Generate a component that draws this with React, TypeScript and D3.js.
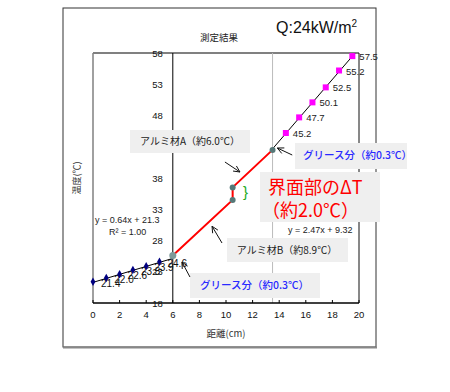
import * as d3 from 'd3';

// blue series (measured, 0-5 cm)
const blueX = [0, 1, 2, 3, 4, 5];
const blueY = [21.4, 22.0, 22.6, 23.3, 23.9, 24.6];
// red path through aluminium A/B and interface
const redX = [6, 10.5, 10.5, 13.5];
const redY = [25.6, 34.5, 36.5, 42.5];
// magenta series (14.5-19.5 cm)
const magX = [14.5, 15.5, 16.5, 17.5, 18.5, 19.5];
const magY = [45.2, 47.7, 50.1, 52.5, 55.2, 57.5];
// trend lines
const fitBlue = { a: 0.64, b: 21.3, from: 0, to: 6 };
const fitMag = { a: 2.47, b: 9.32, from: 13.5, to: 19.71 };

const xTicks = [0, 2, 4, 6, 8, 10, 12, 14, 16, 18, 20];
const yTicks = [18, 23, 28, 33, 38, 43, 48, 53, 58];

const JP = '"Noto Sans CJK JP", "Liberation Sans", sans-serif';
const AR = '"Liberation Sans", Arial, sans-serif';

const x = d3.scaleLinear().domain([0, 20]).range([93, 359]);
const y = d3.scaleLinear().domain([18, 58]).range([303, 53]);

const Arrow = ({ tail, head }: { tail: number[]; head: number[] }) => {
  const x1 = x(tail[0]), y1 = y(tail[1]), x2 = x(head[0]), y2 = y(head[1]);
  const ang = Math.atan2(y2 - y1, x2 - x1);
  const L = 7, s = 0.45;
  const p1 = [x2 - L * Math.cos(ang - s), y2 - L * Math.sin(ang - s)];
  const p2 = [x2 - L * Math.cos(ang + s), y2 - L * Math.sin(ang + s)];
  return (
    <g stroke="#111" strokeWidth={1} fill="none">
      <line x1={x1} y1={y1} x2={x2} y2={y2} />
      <polyline points={`${p1[0]},${p1[1]} ${x2},${y2} ${p2[0]},${p2[1]}`} />
    </g>
  );
};

export default function App() {
  const redLine = d3.line<number>().x((_, i) => x(redX[i])).y((d) => y(d));
  const diamond = d3.symbol().type(d3.symbolDiamond).size(20)();

  return (
    <svg width={450} height={392} style={{ position: 'absolute', left: 0, top: 0, background: '#fff' }}>
      {/* outer frame */}
      <rect x={63} y={8} width={313} height={339} fill="#fff" stroke="#333" strokeWidth={1} />
      <line x1={63} x2={377} y1={347.5} y2={347.5} stroke="#888" strokeWidth={2} />

      {/* title */}
      <text x={219} y={41} textAnchor="middle" fontFamily={JP} fontSize={9.5} fill="#222">測定結果</text>
      <text x={276} y={33} fontFamily={AR} fontSize={16} fill="#111">
        Q:24kW/m<tspan fontSize={10} dy={-6}>2</tspan>
      </text>

      {/* plot frame */}
      <line x1={x(0)} x2={x(20)} y1={y(58)} y2={y(58)} stroke="#808080" strokeWidth={2} />
      <line x1={x(0)} x2={x(0)} y1={y(58)} y2={y(18)} stroke="#808080" strokeWidth={1.5} />
      <line x1={x(20)} x2={x(20)} y1={y(58)} y2={y(18)} stroke="#111" strokeWidth={1} />
      <line x1={x(13.5)} x2={x(13.5)} y1={y(58)} y2={y(18)} stroke="#bbb" strokeWidth={1} />
      <line x1={x(6)} x2={x(6)} y1={y(58)} y2={y(18)} stroke="#000" strokeWidth={1} />
      <line x1={x(0)} x2={x(20)} y1={y(18)} y2={y(18)} stroke="#000" strokeWidth={1.5} />
      {xTicks.map((t) => (
        <line key={'xt' + t} x1={x(t)} x2={x(t)} y1={y(18)} y2={y(18) - 3} stroke="#000" />
      ))}

      {/* y tick labels along the axis at x=6 */}
      {yTicks.map((t) => (
        <text key={'yt' + t} x={x(6) - 10} y={y(t) + 3.5} textAnchor="end" fontFamily={AR} fontSize={9.5} fill="#111">{t}</text>
      ))}
      {xTicks.map((t) => (
        <text key={'xl' + t} x={x(t)} y={318} textAnchor="middle" fontFamily={AR} fontSize={9.5} fill="#111">{t}</text>
      ))}

      {/* axis titles */}
      <text transform={`translate(80,${y(38)}) rotate(-90)`} textAnchor="middle" fontFamily={JP} fontSize={9} fill="#333">温度(℃)</text>
      <text x={226} y={337} textAnchor="middle" fontFamily={JP} fontSize={9.5} fill="#333">距離(cm)</text>

      {/* trend lines */}
      <line x1={x(fitBlue.from)} y1={y(fitBlue.a * fitBlue.from + fitBlue.b)} x2={x(fitBlue.to)} y2={y(fitBlue.a * fitBlue.to + fitBlue.b)} stroke="#000" strokeWidth={1} />
      <line x1={x(fitMag.from)} y1={y(fitMag.a * fitMag.from + fitMag.b)} x2={x(fitMag.to)} y2={y(fitMag.a * fitMag.to + fitMag.b)} stroke="#000" strokeWidth={1} />

      {/* red path */}
      <path d={redLine(redY) || ''} fill="none" stroke="#ff0000" strokeWidth={2} />
      {redY.map((v, i) => (
        <circle key={'r' + i} cx={x(redX[i])} cy={y(v)} r={i === 0 ? 3.5 : 3} fill={i === 0 ? '#7f9a9a' : '#567878'} />
      ))}

      {/* blue series */}
      {blueY.map((v, i) => (
        <g key={'b' + i}>
          <path d={diamond || ''} transform={`translate(${x(blueX[i])},${y(v)})`} fill="#000080" />
          <text x={x(blueX[i]) + 8} y={y(v) + 5} fontFamily={AR} fontSize={10} fill="#111">{v.toFixed(1)}</text>
        </g>
      ))}

      {/* magenta series */}
      {magY.map((v, i) => (
        <g key={'m' + i}>
          <rect x={x(magX[i]) - 3} y={y(v) - 3} width={6} height={6} fill="#ff00ff" />
          <text x={x(magX[i]) + 7} y={y(v) + 4} fontFamily={AR} fontSize={9.5} fill="#222">{v.toFixed(1)}</text>
        </g>
      ))}

      {/* regression text */}
      <text x={95} y={223} fontFamily={AR} fontSize={9} fill="#222">y = 0.64x + 21.3</text>
      <text x={109} y={235} fontFamily={AR} fontSize={9} fill="#222">R² = 1.00</text>
      <text x={288} y={233} fontFamily={AR} fontSize={9} fill="#222">y = 2.47x + 9.32</text>

      {/* annotation boxes */}
      <rect x={130} y={130} width={120} height={23} fill="#efefef" />
      <text x={190} y={145} textAnchor="middle" fontFamily={JP} fontSize={10} fill="#222">アルミ材A（約6.0℃）</text>

      <rect x={295} y={143} width={112} height={26} fill="#efefef" />
      <text x={303} y={159} fontFamily={JP} fontSize={10.5} fontWeight={500} fill="#2a2aff">グリース分（約0.3℃）</text>

      <rect x={260} y={172} width={120} height={50} fill="#efefef" />
      <text x={268} y={194} fontFamily={JP} fontSize={18} fill="#ff0000">界面部のΔT</text>
      <text x={262} y={217} fontFamily={JP} fontSize={18} fill="#ff0000">（約2.0℃）</text>

      <rect x={227} y={238} width={121} height={24} fill="#efefef" />
      <text x={287} y={254} textAnchor="middle" fontFamily={JP} fontSize={10} fill="#222">アルミ材B（約8.9℃）</text>

      <rect x={190} y={273} width={130} height={25} fill="#efefef" />
      <text x={200} y={289} fontFamily={JP} fontSize={10.5} fontWeight={500} fill="#2a2aff">グリース分（約0.3℃）</text>

      {/* green brace */}
      <text x={243} y={197} fontFamily={AR} fontSize={15} fill="#22aa22">{'}'}</text>

      {/* arrows */}
      <Arrow tail={[9.92, 40.56]} head={[11.05, 38.96]} />
      <Arrow tail={[9.7, 27.6]} head={[8.95, 30.28]} />
      <Arrow tail={[14.98, 41.68]} head={[13.86, 42.8]} />
      <Arrow tail={[7.29, 22.16]} head={[6.69, 24.56]} />
    </svg>
  );
}
